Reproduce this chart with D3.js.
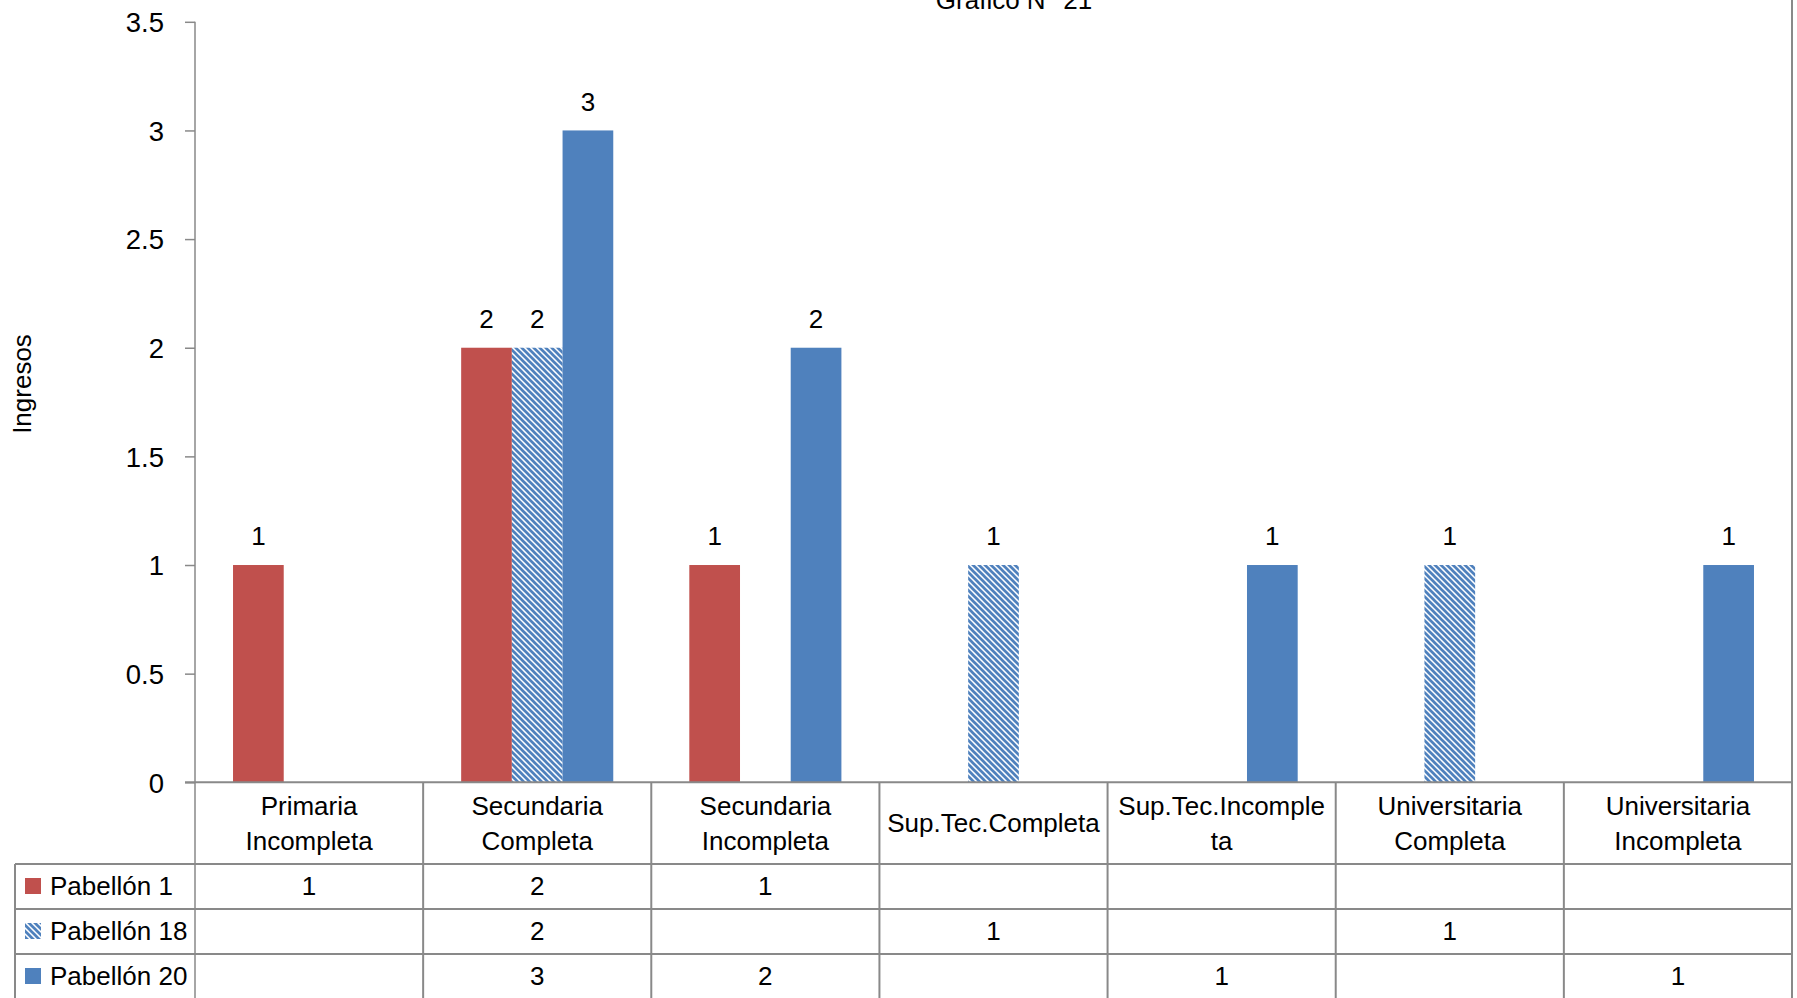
<!DOCTYPE html>
<html>
<head>
<meta charset="utf-8">
<script src="https://cdn.jsdelivr.net/npm/d3@7"></script>
<style>
  html, body { margin: 0; padding: 0; background: #fff; }
  svg { display: block; font-family: "Liberation Sans", Arial, sans-serif; }
</style>
</head>
<body>
<svg id="chart" width="1797" height="998"></svg>
<script>
const title = "Grafico N° 21";
const yTitle = "Ingresos";
const categories = [
  ["Primaria", "Incompleta"],
  ["Secundaria", "Completa"],
  ["Secundaria", "Incompleta"],
  ["Sup.Tec.Completa"],
  ["Sup.Tec.Incomple", "ta"],
  ["Universitaria", "Completa"],
  ["Universitaria", "Incompleta"]
];
const seriesNames = ["Pabellón 1", "Pabellón 18", "Pabellón 20"];
const pabellon1  = [1, 2, 1, null, null, null, null];
const pabellon18 = [null, 2, null, 1, null, 1, null];
const pabellon20 = [null, 3, 2, null, 1, null, 1];
const yTicks = [0, 0.5, 1, 1.5, 2, 2.5, 3, 3.5];

(function () {
const seriesValues = [pabellon1, pabellon18, pabellon20];
const colors = ["#C0504D", "url(#hatch)", "#4F81BD"];

const svg = d3.select("#chart");
const W = 1797, H = 998;
const plotL = 195, plotR = 1792, plotT = 21.8, zeroY = 782.3;
const rowLines = [864, 909, 954, 999];
const gridColor = "#898989";
const font = 26;

// hatch pattern
const defs = svg.append("defs");
const pat = defs.append("pattern").attr("id", "hatch")
  .attr("patternUnits", "userSpaceOnUse").attr("width", 6).attr("height", 6);
pat.append("rect").attr("width", 6).attr("height", 6).attr("fill", "#fff");
pat.append("path").attr("d", "M0,0 L6,6 M5,-1 L7,1 M-1,5 L1,7")
  .attr("stroke", "#4F81BD").attr("stroke-width", 2.7);

const idx = d3.range(categories.length);
const x = d3.scaleBand().domain(idx).range([plotL, plotR]).paddingInner(0).paddingOuter(0);
const xInner = d3.scaleBand().domain(d3.range(seriesNames.length))
  .range([x.bandwidth() / 6, x.bandwidth() * 5 / 6]);
const y = d3.scaleLinear().domain([0, 3.5]).range([zeroY, plotT]);

// Title
svg.append("text").attr("x", 1014).attr("y", 9).attr("text-anchor", "middle")
  .attr("font-size", font).attr("fill", "#000").text(title);

// Y axis
const yAxis = d3.axisLeft(y).tickValues(yTicks).tickSize(10).tickPadding(21)
  .tickFormat(d3.format("~g"));
const gy = svg.append("g").attr("transform", `translate(${plotL},0)`).call(yAxis);
gy.select(".domain").remove();
gy.selectAll(".tick line").attr("stroke", gridColor).attr("stroke-width", 1.5);
gy.selectAll(".tick text").attr("font-size", 27.5).attr("fill", "#000")
  .attr("font-family", "Liberation Sans, Arial, sans-serif").attr("dy", "0.36em");

// Y title
svg.append("text").attr("transform", `translate(31,384) rotate(-90)`)
  .attr("text-anchor", "middle").attr("font-size", font).attr("fill", "#000").text(yTitle);

// bars
const groups = svg.append("g").selectAll("g").data(seriesValues).join("g");
groups.each(function (vals, si) {
  const g = d3.select(this);
  const data = vals.map((v, ci) => ({ v, ci })).filter(d => d.v != null);
  g.selectAll("rect").data(data).join("rect")
    .attr("x", d => x(d.ci) + xInner(si))
    .attr("width", xInner.bandwidth())
    .attr("y", d => y(d.v))
    .attr("height", d => y(0) - y(d.v))
    .attr("fill", colors[si]);
  g.selectAll("text").data(data).join("text")
    .attr("x", d => x(d.ci) + xInner(si) + xInner.bandwidth() / 2)
    .attr("y", d => y(d.v) - 19.6)
    .attr("text-anchor", "middle").attr("font-size", font).attr("fill", "#000")
    .text(d => d.v);
});

// axis lines & table grid
const grid = svg.append("g").attr("stroke", gridColor).attr("fill", "none");
grid.append("line").attr("x1", plotL).attr("x2", plotL).attr("y1", plotT).attr("y2", H)
  .attr("stroke-width", 1.5);
grid.append("line").attr("x1", plotR).attr("x2", plotR).attr("y1", 0).attr("y2", H)
  .attr("stroke-width", 2);
grid.append("line").attr("x1", plotL - 10).attr("x2", plotR).attr("y1", zeroY).attr("y2", zeroY)
  .attr("stroke-width", 2);
rowLines.slice(0, 3).forEach(yy => {
  grid.append("line").attr("x1", 15).attr("x2", plotR).attr("y1", yy).attr("y2", yy)
    .attr("stroke-width", 2);
});
grid.append("line").attr("x1", 15).attr("x2", 15).attr("y1", rowLines[0]).attr("y2", H)
  .attr("stroke-width", 2);
idx.slice(1).forEach(ci => {
  grid.append("line").attr("x1", x(ci)).attr("x2", x(ci)).attr("y1", zeroY).attr("y2", H)
    .attr("stroke-width", 2);
});

// header labels
const hdr = svg.append("g");
categories.forEach((lines, ci) => {
  const cx = x(ci) + x.bandwidth() / 2;
  const baselines = lines.length === 2 ? [815, 850] : [832];
  lines.forEach((ln, li) => {
    hdr.append("text").attr("x", cx).attr("y", baselines[li])
      .attr("text-anchor", "middle").attr("font-size", font).attr("fill", "#000").text(ln);
  });
});

// table rows
const rowBase = [895, 940, 985];
seriesNames.forEach((name, si) => {
  svg.append("rect").attr("x", 25).attr("y", rowBase[si] - 17).attr("width", 16).attr("height", 16)
    .attr("fill", colors[si]);
  svg.append("text").attr("x", 50).attr("y", rowBase[si]).attr("font-size", font)
    .attr("fill", "#000").text(name);
  seriesValues[si].forEach((v, ci) => {
    if (v == null) return;
    svg.append("text").attr("x", x(ci) + x.bandwidth() / 2).attr("y", rowBase[si])
      .attr("text-anchor", "middle").attr("font-size", font).attr("fill", "#000").text(v);
  });
});
})();
</script>
</body>
</html>
